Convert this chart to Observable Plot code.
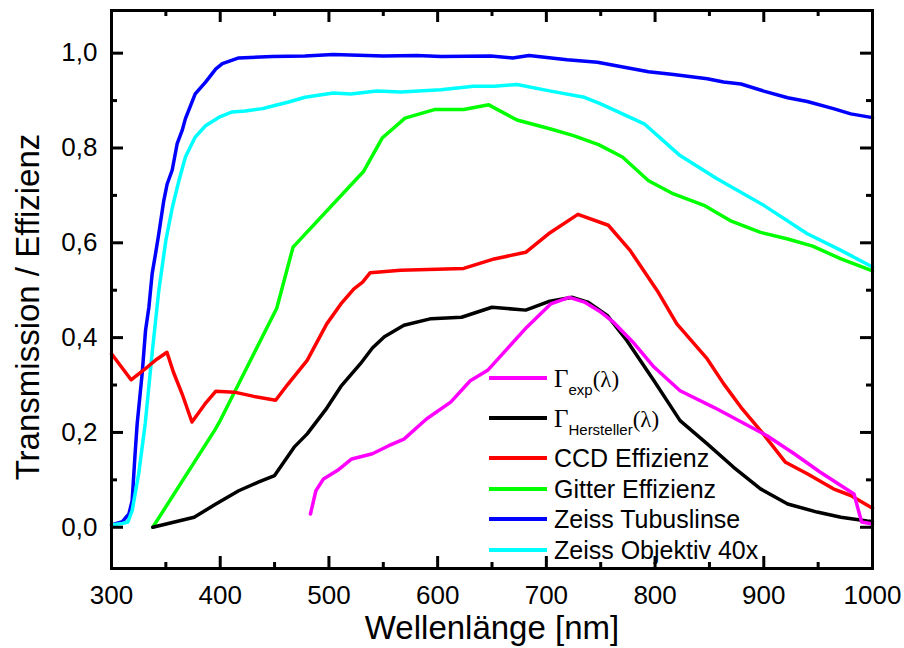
<!DOCTYPE html>
<html><head><meta charset="utf-8">
<script src="https://cdn.jsdelivr.net/npm/d3@7"></script>
<script src="https://cdn.jsdelivr.net/npm/@observablehq/plot@0.6"></script>
<style>
body{margin:0;background:#fff;}
#wrap{position:relative;width:904px;height:648px;font-family:Arial,"Liberation Sans",sans-serif;}
.row{position:absolute;left:489px;height:26px;line-height:26px;font-size:25px;white-space:nowrap;color:#000;}
.sw{position:absolute;left:0;top:11px;width:58px;height:4px;}
.lab{position:absolute;left:65px;top:0;}
.g{font-family:"Liberation Serif","Times New Roman",serif;line-height:0;}
.sub{position:relative;top:8px;font-size:15px;line-height:0;}
</style></head>
<body><div id="wrap"></div>
<script>
// ---- data ----
const lamExp = [483,488,495,508,521,540,555,569,590,612,630,646,661,682,704,721,735,750,762,781,799,823,854,885,903,928,952,983,990,1000];
const valExp = [0.028,0.077,0.102,0.120,0.144,0.155,0.172,0.186,0.229,0.264,0.309,0.331,0.369,0.422,0.471,0.485,0.475,0.454,0.432,0.387,0.338,0.288,0.253,0.215,0.193,0.155,0.116,0.070,0.011,0.007];

const lamHer = [338,376,396,417,435,450,468,480,497,511,529,540,551,569,594,622,650,681,702,724,738,756,774,799,823,848,872,897,922,949,971,995,1000];
const valHer = [0.0,0.021,0.049,0.077,0.095,0.109,0.169,0.197,0.248,0.297,0.345,0.378,0.402,0.426,0.440,0.443,0.464,0.458,0.476,0.485,0.475,0.447,0.394,0.309,0.225,0.176,0.127,0.081,0.049,0.032,0.021,0.013,0.012];

const lamCCD = [300,318,333,342,351,357,365,374,386,396,413,431,451,462,480,498,511,523,531,538,566,624,652,681,702,729,757,777,802,820,836,848,863,879,897,909,920,940,964,980,1000];
const valCCD = [0.366,0.311,0.338,0.355,0.369,0.327,0.281,0.222,0.260,0.287,0.285,0.276,0.268,0.301,0.352,0.429,0.471,0.503,0.517,0.537,0.542,0.546,0.566,0.580,0.619,0.660,0.637,0.584,0.499,0.429,0.387,0.355,0.303,0.253,0.204,0.169,0.137,0.113,0.081,0.067,0.040];

const lamGit = [338,395,400,452,467,532,549,570,597,624,647,673,704,725,748,770,794,817,845,869,897,922,945,971,1000];
const valGit = [0.0,0.205,0.225,0.462,0.591,0.751,0.821,0.863,0.881,0.881,0.891,0.859,0.840,0.826,0.807,0.781,0.731,0.703,0.679,0.647,0.622,0.608,0.593,0.566,0.541];

const lamTub = [300,310,316,319,321.5,323.6,328.2,331.3,334.4,337.4,340.5,343.5,348.1,351.2,355.8,360.4,365,368,377,386.5,396,402,417,448,478,504,550,581,603,649,669,684,719,747,768,794,817,848,863,879,900,922,940,964,980,1000];
const valTub = [0.005,0.012,0.028,0.056,0.148,0.218,0.324,0.415,0.464,0.535,0.577,0.619,0.689,0.724,0.753,0.809,0.837,0.862,0.914,0.939,0.967,0.978,0.990,0.993,0.994,0.997,0.994,0.995,0.993,0.994,0.990,0.995,0.986,0.981,0.972,0.961,0.955,0.946,0.939,0.935,0.920,0.906,0.898,0.883,0.872,0.864];

const lamObj = [300,310,315,319,325,331,337,343.5,350,356,362,368,377,386.5,399,411,423,439,451,463,478,504,520,544,566,603,633,652,673,704,735,750,790,823,857,900,940,971,1000];
const valObj = [0.005,0.008,0.011,0.035,0.113,0.218,0.359,0.499,0.605,0.675,0.731,0.781,0.823,0.847,0.865,0.876,0.878,0.883,0.890,0.897,0.907,0.916,0.914,0.920,0.918,0.923,0.930,0.930,0.934,0.920,0.907,0.893,0.851,0.784,0.735,0.679,0.619,0.584,0.549];

const xTicksMajor = [300,400,500,600,700,800,900,1000];
const xTicksMinor = [350,450,550,650,750,850,950];
const yTicksMajor = [0,0.2,0.4,0.6,0.8,1.0];
const yTicksMinor = [0.1,0.3,0.5,0.7,0.9];

const xTitle = "Wellenlänge [nm]";
const yTitle = "Transmission / Effizienz";

const series = [
  {key:"tub", color:"#0000ff", lam:lamTub, val:valTub},
  {key:"obj", color:"#00ffff", lam:lamObj, val:valObj},
  {key:"git", color:"#00ff00", lam:lamGit, val:valGit},
  {key:"ccd", color:"#ff0000", lam:lamCCD, val:valCCD},
  {key:"her", color:"#000000", lam:lamHer, val:valHer},
  {key:"exp", color:"#ff00ff", lam:lamExp, val:valExp}
];

const legendItems = [
  {color:"#ff00ff", html:'<span class="g">Γ</span><span class="sub">exp</span><span class="g" style="font-size:23px">(λ)</span>', cy:378},
  {color:"#000000", html:'<span class="g">Γ</span><span class="sub">Hersteller</span><span class="g" style="font-size:23px">(λ)</span>', cy:418},
  {color:"#ff0000", html:"CCD Effizienz", cy:458},
  {color:"#00ff00", html:"Gitter Effizienz", cy:488.5},
  {color:"#0000ff", html:"Zeiss Tubuslinse", cy:519},
  {color:"#00ffff", html:"Zeiss Objektiv 40x", cy:550}
];

const fmtY = d => d.toFixed(1).replace(".", ",");

const lineMarks = series.map(s => Plot.line(
  s.lam.map((l, i) => ({lam: l, val: s.val[i]})),
  {x: "lam", y: "val", stroke: s.color, strokeWidth: 3.5, strokeLinejoin: "round", strokeLinecap: "round"}
));

// layout
const W = 904, H = 648, ML = 111, MR = 32, MT = 10, MB = 80;
const FW = W - ML - MR, FH = H - MT - MB;
const MAJ = 12, MIN = 6;

// inward ticks: tick marks spanning the frame, inset down to a short stub at one edge
function xTicks(ticks, len, side) {
  const inset = FH - len;
  return Plot.tickX(ticks, {x: d => d, stroke: "black", strokeWidth: 3,
    ...(side === "bottom" ? {insetTop: inset} : {insetBottom: inset})});
}
function yTicks(ticks, len, side) {
  const inset = FW - len;
  return Plot.tickY(ticks, {y: d => d, stroke: "black", strokeWidth: 3,
    ...(side === "left" ? {insetRight: inset} : {insetLeft: inset})});
}

const chart = Plot.plot({
  width: W, height: H,
  marginLeft: ML, marginRight: MR, marginTop: MT, marginBottom: MB,
  style: {fontFamily: "Arial, 'Liberation Sans', sans-serif", background: "white", color: "black", overflow: "visible"},
  x: {domain: [300, 1000], label: null},
  y: {domain: [-0.087, 1.09], label: null},
  marks: [
    ...lineMarks,
    xTicks(xTicksMajor, MAJ, "bottom"),
    xTicks(xTicksMinor, MIN, "bottom"),
    xTicks(xTicksMajor, MAJ, "top"),
    xTicks(xTicksMinor, MIN, "top"),
    yTicks(yTicksMajor, MAJ, "left"),
    yTicks(yTicksMinor, MIN, "left"),
    yTicks(yTicksMajor, MAJ, "right"),
    yTicks(yTicksMinor, MIN, "right"),
    Plot.axisX({ticks: xTicksMajor, anchor: "bottom", tickSize: 0, tickPadding: 17, fontSize: 26, tickFormat: d => String(d), label: null}),
    Plot.axisY({ticks: yTicksMajor, anchor: "left", tickSize: 0, tickPadding: 14, fontSize: 26, tickFormat: fmtY, label: null}),
    Plot.frame({strokeWidth: 3}),
    Plot.text([xTitle], {text: d => d, frameAnchor: "bottom", lineAnchor: "bottom", textAnchor: "middle", dy: 70, fontSize: 33}),
    Plot.text([yTitle], {text: d => d, frameAnchor: "left", rotate: -90, lineAnchor: "bottom", textAnchor: "middle", dx: -73, dy: 17.5, fontSize: 33})
  ]
});

const wrap = document.getElementById("wrap");
wrap.appendChild(chart);
for (const it of legendItems) {
  const row = document.createElement("div");
  row.className = "row";
  row.style.top = (it.cy - 13) + "px";
  row.innerHTML = `<span class="sw" style="background:${it.color}"></span><span class="lab">${it.html}</span>`;
  wrap.appendChild(row);
}
</script>
</body></html>
